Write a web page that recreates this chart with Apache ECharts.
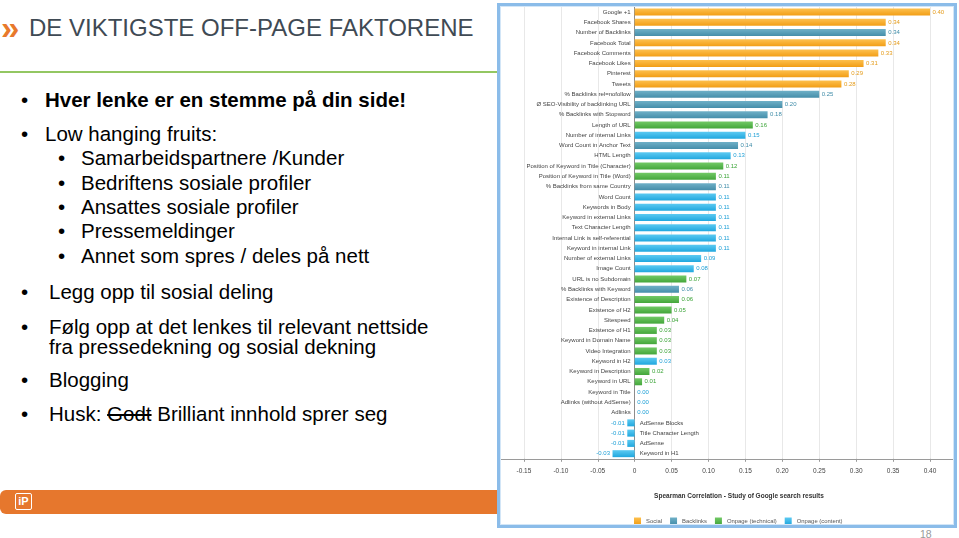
<!DOCTYPE html>
<html><head><meta charset="utf-8">
<script src="https://cdn.jsdelivr.net/npm/echarts@6/dist/echarts.min.js"></script>
<style>
html,body{margin:0;padding:0;background:#fff;}
body{width:959px;height:538px;position:relative;overflow:hidden;font-family:"Liberation Sans",Arial,sans-serif;}
.t{position:absolute;white-space:nowrap;line-height:1;color:#000;font-size:20.5px;}
.b{position:absolute;line-height:1;font-size:20.5px;color:#000;}
#title{position:absolute;left:29px;top:16px;font-size:24px;line-height:1;color:#3f4a54;white-space:nowrap;}
#chev{position:absolute;left:1px;top:11px;font-size:33px;font-weight:bold;line-height:1;color:#e8792b;}
#gline{position:absolute;left:0;top:71px;width:497px;height:2px;background:#93c762;}
#footer{position:absolute;left:0;top:490px;width:500px;height:24px;background:#e6772d;border-radius:6px 0 0 6px;}
#logo{position:absolute;left:15px;top:493px;width:15px;height:15px;border:1.6px solid #fff;border-radius:2px;color:#fff;font-weight:bold;font-size:11px;line-height:15px;text-align:center;}
#pnum{position:absolute;left:920px;top:528.5px;font-size:10.5px;line-height:1;color:#999;}
#chart{position:absolute;left:497px;top:0;width:462px;height:530px;background:#fff;}
#frame{position:absolute;left:497px;top:3px;width:460px;height:525px;box-sizing:border-box;border:3px solid #8bbce9;box-shadow:inset 0 0 0 1px #d3e6f7;pointer-events:none;}
</style></head><body>
<div id="chev">»</div>
<div id="title">DE VIKTIGSTE OFF-PAGE FAKTORENE</div>
<div id="gline"></div>

<div class="b" style="left:21px;top:90px">•</div>
<div class="t" style="left:45px;top:90px;font-weight:bold">Hver lenke er en stemme på din side!</div>
<div class="b" style="left:21px;top:124px">•</div>
<div class="t" style="left:45px;top:124px">Low hanging fruits:</div>
<div class="b" style="left:58px;top:148px">•</div>
<div class="t" style="left:81px;top:148px">Samarbeidspartnere /Kunder</div>
<div class="b" style="left:58px;top:173px">•</div>
<div class="t" style="left:81px;top:173px">Bedriftens sosiale profiler</div>
<div class="b" style="left:58px;top:197px">•</div>
<div class="t" style="left:81px;top:197px">Ansattes sosiale profiler</div>
<div class="b" style="left:58px;top:221px">•</div>
<div class="t" style="left:81px;top:221px">Pressemeldinger</div>
<div class="b" style="left:58px;top:246px">•</div>
<div class="t" style="left:81px;top:246px">Annet som spres / deles på nett</div>
<div class="b" style="left:21px;top:282px">•</div>
<div class="t" style="left:49px;top:282px">Legg opp til sosial deling</div>
<div class="b" style="left:21px;top:317px">•</div>
<div class="t" style="left:49px;top:317px">Følg opp at det lenkes til relevant nettside</div>
<div class="t" style="left:49px;top:337px">fra pressedekning og sosial dekning</div>
<div class="b" style="left:21px;top:370px">•</div>
<div class="t" style="left:49px;top:370px">Blogging</div>
<div class="b" style="left:21px;top:404px">•</div>
<div class="t" style="left:49px;top:404px">Husk: <span style="text-decoration:line-through">Godt</span> Brilliant innhold sprer seg</div>

<div id="footer"></div>
<div id="logo">iP</div>
<div id="pnum">18</div>

<div id="chart"></div>
<div id="frame"></div>

<script>
const categories = [
  'Google +1','Facebook Shares','Number of Backlinks','Facebook Total','Facebook Comments',
  'Facebook Likes','Pinterest','Tweets','% Backlinks rel=nofollow','Ø SEO-Visibility of backlinking URL',
  '% Backlinks with Stopword','Length of URL','Number of internal Links','Word Count in Anchor Text','HTML Length',
  'Position of Keyword in Title (Character)','Position of Keyword in Title (Word)','% Backlinks from same Country','Word Count','Keywords in Body',
  'Keyword in external Links','Text Character Length','Internal Link is self-referential','Keyword in internal Link','Number of external Links',
  'Image Count','URL is no Subdomain','% Backlinks with Keyword','Existence of Description','Existence of H2',
  'Sitespeed','Existence of H1','Keyword in Domain Name','Video Integration','Keyword in H2',
  'Keyword in Description','Keyword in URL','Keyword in Title','Adlinks (without AdSense)','Adlinks',
  'AdSense Blocks','Title Character Length','AdSense','Keyword in H1'
];
const values = [
  0.40,0.34,0.34,0.34,0.33,
  0.31,0.29,0.28,0.25,0.20,
  0.18,0.16,0.15,0.14,0.13,
  0.12,0.11,0.11,0.11,0.11,
  0.11,0.11,0.11,0.11,0.09,
  0.08,0.07,0.06,0.06,0.05,
  0.04,0.03,0.03,0.03,0.03,
  0.02,0.01,0.00,0.00,0.00,
  -0.01,-0.01,-0.01,-0.03
];
// 0 = Social, 1 = Backlinks, 2 = Onpage (technical), 3 = Onpage (content)
const groups = [
  0,0,1,0,0,
  0,0,0,1,1,
  1,2,3,1,3,
  2,2,1,3,3,
  3,3,3,3,3,
  3,2,1,2,2,
  2,2,2,2,3,
  2,2,3,3,3,
  3,3,3,3
];
const groupNames = ['Social','Backlinks','Onpage (technical)','Onpage (content)'];
const xTicks = [-0.15,-0.10,-0.05,0,0.05,0.10,0.15,0.20,0.25,0.30,0.35,0.40];
const xMin = -0.182, xMax = 0.431;
const axisTitle = 'Spearman Correlation - Study of Google search results';

const FONT = '"Liberation Sans", Arial, sans-serif';
const barColors = [
  ['#fdc04e','#f29e16'],
  ['#6fb0c7','#458eaa'],
  ['#72c966','#43a63a'],
  ['#5ccaf2','#20a7de']
];
const labelColors = ['#e49b1a','#3f8ca8','#3ba437','#1d9fd6'];

const series = groupNames.map((name, g) => ({
  name: name,
  type: 'bar',
  stack: 'all',
  barWidth: 7,
  barGap: '-100%',
  itemStyle: {
    color: new echarts.graphic.LinearGradient(0, 0, 0, 1, [
      {offset: 0, color: barColors[g][0]},
      {offset: 1, color: barColors[g][1]}
    ])
  },
  label: {
    show: true, position: 'right', distance: 2.5,
    color: labelColors[g], fontSize: 6, fontFamily: FONT,
    formatter: p => (p.value == null ? '' : Number(p.value).toFixed(2))
  },
  data: values.map((v, i) => groups[i] === g ? (v < 0 ? {value: v, label: {position: 'left'}} : v) : null)
}));

// category names sit at the zero line: left of it for non-negative rows, right of it for negative rows
series.push({
  name: 'categoryNames',
  type: 'bar',
  barWidth: 7,
  barGap: '-100%',
  silent: true,
  itemStyle: {color: 'rgba(0,0,0,0)'},
  label: {
    show: true, distance: 4,
    color: '#444', fontSize: 6, fontFamily: FONT,
    formatter: p => categories[p.dataIndex]
  },
  data: values.map(v => ({value: 0, label: {position: v < 0 ? 'right' : 'left', distance: v < 0 ? 5 : 4}}))
});

const chart = echarts.init(document.getElementById('chart'), null, {renderer: 'canvas'});
chart.setOption({
  animation: false,
  backgroundColor: '#fff',
  textStyle: {fontFamily: FONT},
  grid: {left: 3.3, right: 6.1, top: 6.9, bottom: 71.2, containLabel: false, outerBoundsMode: 'none'},
  legend: {
    data: groupNames,
    left: 137, top: 517.5, padding: 0,
    itemWidth: 7, itemHeight: 7, itemGap: 8,
    icon: 'rect',
    textStyle: {fontSize: 5.9, color: '#555', fontFamily: FONT}
  },
  xAxis: {
    type: 'value', min: xMin, max: xMax, position: 'bottom',
    axisLine: {show: true, onZero: false, lineStyle: {color: '#9a9a9a'}},
    axisTick: {show: true, length: 3, customValues: xTicks, lineStyle: {color: '#9a9a9a'}},
    axisLabel: {
      customValues: xTicks, fontSize: 6.5, color: '#444', margin: 9, fontFamily: FONT,
      formatter: v => (Math.abs(v) < 1e-9 ? '0' : Number(v).toFixed(2))
    },
    splitLine: {show: true, lineStyle: {color: '#e8e8e8'}}
  },
  yAxis: {
    type: 'category', data: categories, inverse: true,
    axisLine: {show: true, onZero: true, lineStyle: {color: '#8c8c8c'}},
    axisTick: {show: false},
    splitLine: {show: false},
    axisLabel: {show: false}
  },
  graphic: [{
    type: 'text', x: 242, y: 496,
    style: {text: axisTitle, font: 'bold 6.5px "Liberation Sans", Arial, sans-serif', fill: '#333', align: 'center', verticalAlign: 'middle'}
  }],
  series: series
});
</script>
</body></html>
